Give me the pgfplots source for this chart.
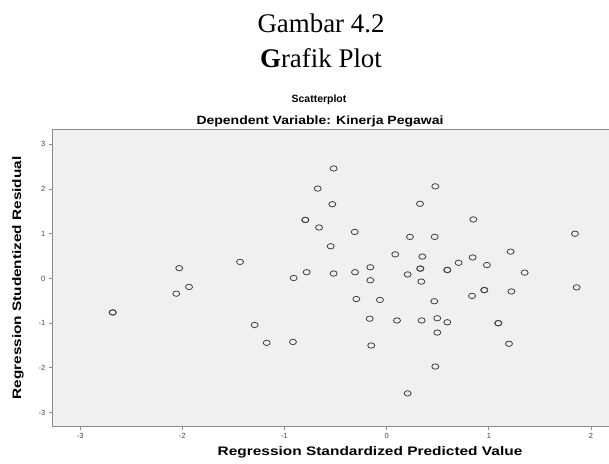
\documentclass[border=0pt]{standalone}
\usepackage{graphicx}
\usepackage{pgfplots}
\pgfplotsset{compat=1.18}
\usepackage{fontspec}
\setmainfont{Liberation Serif}
\newfontfamily\arial{Liberation Sans}
\definecolor{bgc}{HTML}{F0F0F0}
\definecolor{framec}{HTML}{8C8C8C}
\definecolor{markc}{HTML}{404040}

\begin{document}
\begin{tikzpicture}[x=1bp,y=1bp]
\useasboundingbox (0,0) rectangle (609,464);
\node[anchor=base,inner sep=0pt,font=\fontsize{27}{27}\selectfont] at (321,431) {Gambar 4.2};
\node[anchor=base,inner sep=0pt,font=\fontsize{27}{27}\selectfont] at (321,396) {\textbf{G}rafik Plot};
\node[anchor=base,inner sep=0pt,font=\arial\bfseries\fontsize{10.5}{12}\selectfont] at (319,361) {Scatterplot};
\node[anchor=base,inner sep=0pt,font=\arial\bfseries\fontsize{12}{14}\selectfont] at (320,339) {\scalebox{1.17}[1]{Dependent Variable: Kinerja Pegawai}};
\node[rotate=90,inner sep=0pt,font=\arial\bfseries\fontsize{12.3}{14}\selectfont] at (18,186) {\scalebox{1.25}[1]{Regression Studentized Residual}};
\node[anchor=base,inner sep=0pt,font=\arial\bfseries\fontsize{12.4}{14}\selectfont] at (370,8) {\scalebox{1.25}[1]{Regression Standardized Predicted Value}};
\begin{axis}[
  at={(52.7bp,38bp)}, anchor=south west,
  scale only axis, width=558.8bp, height=296.7bp,
  xmin=-3.268, xmax=2.2, ymin=-3.30, ymax=3.336,
  xtick={-3,-2,-1,0,1,2}, ytick={-3,-2,-1,0,1,2,3},
  axis background/.style={fill=bgc},
  axis line style={framec, line width=0.9bp},
  tick style={framec, line width=0.9bp},
  tick align=outside, major tick length=4bp,
  xtick pos=bottom, ytick pos=left,
  tick label style={font=\arial\fontsize{7.5}{8}\selectfont, text=black!75},
  /pgf/number format/assume math mode=true,
  clip=false,
]
\addplot[only marks, mark=o, mark size=2.7bp,
  mark options={draw=markc, line width=0.8bp, xscale=1.3}]
coordinates {
(-0.519,2.46) (-0.675,2.01) (-0.532,1.66) (-0.796,1.31) (-0.796,1.31)
(-0.662,1.14) (-0.313,1.04) (-0.548,0.72) (-2.03,0.23) (-1.435,0.37)
(-0.91,0.01) (-0.783,0.14) (-0.519,0.11) (-0.310,0.14) (-1.934,-0.19)
(0.476,2.06) (0.326,1.67) (0.848,1.32) (0.228,0.93) (0.470,0.93)
(1.843,1.00) (0.084,0.54) (0.349,0.49) (1.213,0.60) (-0.160,0.25)
(0.329,0.22) (0.329,0.22) (0.593,0.19) (0.593,0.19) (0.704,0.35)
(0.841,0.47) (0.981,0.30) (0.205,0.09) (1.35,0.13) (-0.160,-0.04)
(0.339,-0.07) (0.955,-0.26) (0.955,-0.26) (1.22,-0.29) (1.859,-0.20)
(-0.297,-0.46) (-0.066,-0.48) (0.466,-0.51) (0.835,-0.39) (-0.166,-0.90)
(0.101,-0.94) (0.342,-0.94) (0.495,-0.89) (0.593,-0.98) (1.092,-1.00)
(1.092,-1.00) (0.495,-1.21) (-0.151,-1.50) (1.197,-1.46) (0.476,-1.97)
(0.205,-2.57) (-2.059,-0.34) (-2.681,-0.76) (-2.681,-0.76) (-1.292,-1.04)
(-1.174,-1.44) (-0.917,-1.42)
};
\end{axis}
\end{tikzpicture}
\end{document}
